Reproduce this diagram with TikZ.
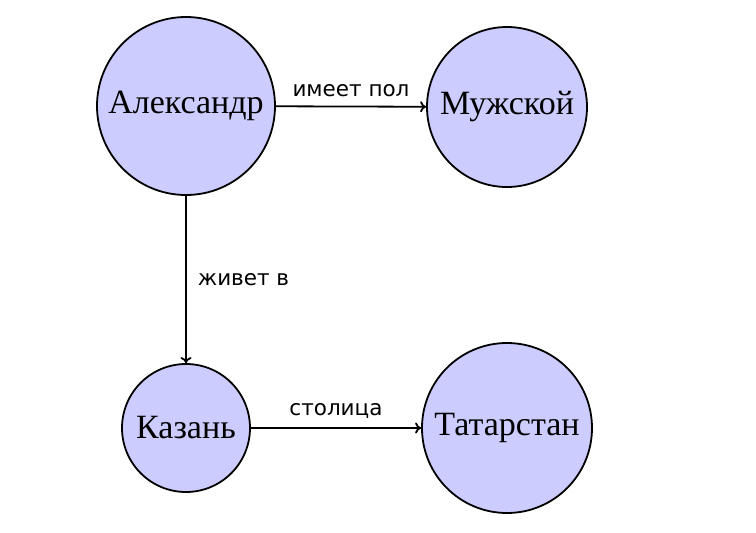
\documentclass[tikz,border=0pt]{standalone}
\usepackage{fontspec}
\setmainfont{Liberation Serif}
\newfontfamily\labfont{DejaVu Sans}
\usetikzlibrary{arrows.meta}
\begin{document}
\begin{tikzpicture}[x=1pt,y=-1pt,
  entity/.style={circle,draw=black,fill={rgb,255:red,204;green,204;blue,255},line width=1.8pt,inner sep=0pt,font=\fontsize{34}{40}\selectfont},
  rel/.style={-{To[length=6pt,width=11pt]},line width=1.8pt},
  lbl/.style={font=\labfont\fontsize{21.5}{26}\selectfont,inner sep=9pt}]
\useasboundingbox (0,0) rectangle (756,533);
\node[entity,minimum size=178pt] (al) at (186,106) {Александр};
\node[entity,minimum size=160pt] (mu) at (507,107) {Мужской};
\node[entity,minimum size=128pt] (ka) at (186,428) {Казань};
\node[entity,minimum size=170pt] (ta) at (507,428) {Татарстан};
\draw[rel] (al) -- node[lbl,above] {имеет пол} (mu);
\draw[rel] (al) -- node[lbl,right,inner sep=11pt] {живет в} (ka);
\draw[rel] (ka) -- node[lbl,above] {столица} (ta);
\end{tikzpicture}
\end{document}
